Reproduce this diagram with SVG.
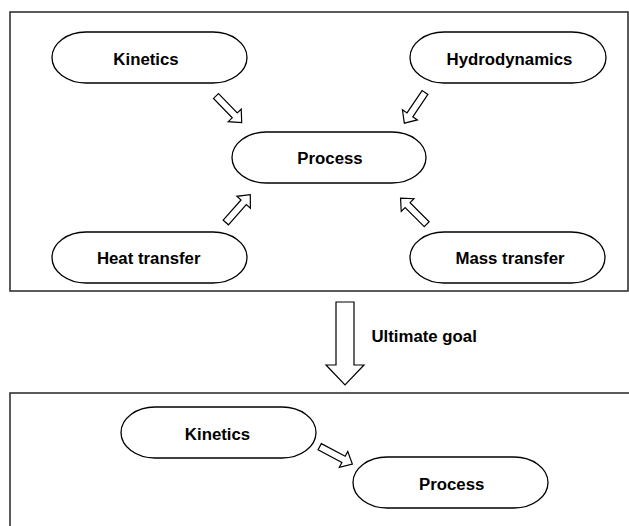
<svg xmlns="http://www.w3.org/2000/svg" width="629" height="526" viewBox="0 0 629 526">
  <style>
    .frame { fill: none; stroke: #333; stroke-width: 1.6; }
    .pill { fill: #fff; stroke: #000; stroke-width: 1.3; }
    .lbl { font-family: "Liberation Sans", Arial, sans-serif; font-weight: bold; font-size: 16.8px; fill: #000; text-anchor: middle; }
    .blk { fill: #fff; stroke: #000; stroke-width: 1.2; stroke-linejoin: miter; }
  </style>
  <defs>
    <!-- block arrow pointing along +x, length 37 -->
    <polygon id="blockArrow" points="0,-3.5 27,-3.5 27,-9 37,0 27,9 27,3.5 0,3.5"/>
  </defs>
  <rect width="629" height="526" fill="#fff"/>

  <!-- frames -->
  <rect class="frame" x="10" y="12" width="618" height="279"/>
  <rect class="frame" x="10" y="393" width="640" height="160"/>

  <!-- connectors -->
  <g id="connectors">
    <use href="#blockArrow" class="blk" transform="translate(216,96) rotate(46)"/>
    <use href="#blockArrow" class="blk" transform="translate(425,92.5) rotate(124)"/>
    <use href="#blockArrow" class="blk" transform="translate(225.8,222.5) rotate(-48.6)"/>
    <use href="#blockArrow" class="blk" transform="translate(426.7,224.2) rotate(-135)"/>
    <use href="#blockArrow" class="blk" transform="translate(319.7,446.7) rotate(28)"/>
    <polygon class="blk" points="336,302 354,302 354,365 364,365 345,385 326,365 336,365"/>
    <text class="lbl" x="371.5" y="342" style="text-anchor:start">Ultimate goal</text>
  </g>

  <g id="kinetics">
    <rect class="pill" x="52" y="32" width="195" height="51" rx="34" ry="25.5"/>
    <text class="lbl" x="146" y="65">Kinetics</text>
  </g>
  <g id="hydrodynamics">
    <rect class="pill" x="410" y="32" width="196" height="51" rx="34" ry="25.5"/>
    <text class="lbl" x="509.5" y="65">Hydrodynamics</text>
  </g>
  <g id="process">
    <rect class="pill" x="232" y="132" width="194" height="51" rx="34" ry="25.5"/>
    <text class="lbl" x="330" y="163.5">Process</text>
  </g>
  <g id="heat-transfer">
    <rect class="pill" x="52" y="232" width="195" height="51" rx="34" ry="25.5"/>
    <text class="lbl" x="148.7" y="263.5">Heat transfer</text>
  </g>
  <g id="mass-transfer">
    <rect class="pill" x="410" y="232" width="195" height="51" rx="34" ry="25.5"/>
    <text class="lbl" x="510" y="264">Mass transfer</text>
  </g>
  <g id="kinetics-2">
    <rect class="pill" x="121" y="407" width="195" height="51" rx="34" ry="25.5"/>
    <text class="lbl" x="217.5" y="440">Kinetics</text>
  </g>
  <g id="process-2">
    <rect class="pill" x="353" y="457" width="195" height="51" rx="34" ry="25.5"/>
    <text class="lbl" x="451.7" y="490">Process</text>
  </g>
</svg>
